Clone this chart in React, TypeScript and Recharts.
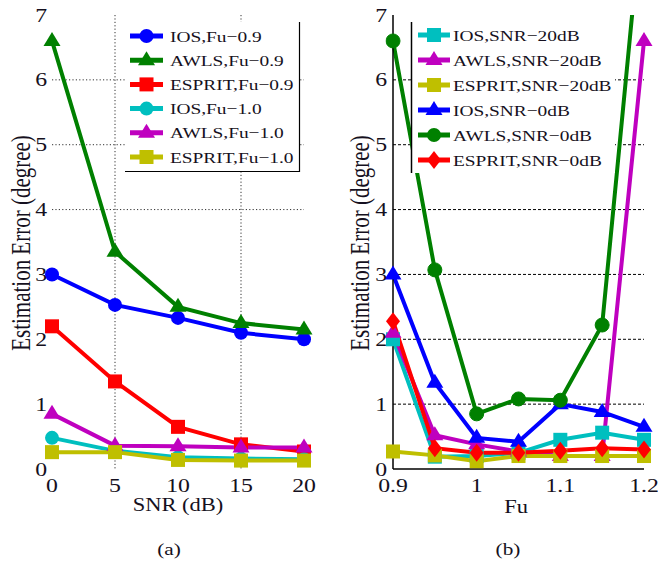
import React from 'react';
import { LineChart, Line, XAxis, YAxis, CartesianGrid, Legend } from 'recharts';

// ---------- data: panel (a) ----------
const snrValues = [0, 5, 10, 15, 20];
const iosFu09 = [3.0, 2.53, 2.33, 2.1, 2.0];
const awlsFu09 = [6.6, 3.35, 2.5, 2.25, 2.15];
const espritFu09 = [2.2, 1.35, 0.65, 0.38, 0.27];
const iosFu10 = [0.48, 0.28, 0.18, 0.16, 0.15];
const awlsFu10 = [0.85, 0.36, 0.35, 0.33, 0.33];
const espritFu10 = [0.26, 0.26, 0.14, 0.13, 0.13];
const snrTicks = [0, 5, 10, 15, 20];

// ---------- data: panel (b) ----------
const fuValues = [0.9, 0.95, 1.0, 1.05, 1.1, 1.15, 1.2];
const iosSnr20 = [2.0, 0.19, 0.2, 0.25, 0.45, 0.56, 0.45];
const awlsSnr20 = [2.1, 0.52, 0.38, 0.27, 0.2, 0.2, 6.6];
const espritSnr20 = [0.27, 0.21, 0.12, 0.2, 0.2, 0.2, 0.2];
const iosSnr0 = [3.0, 1.33, 0.48, 0.42, 1.0, 0.88, 0.65];
const awlsSnr0 = [6.6, 3.07, 0.85, 1.08, 1.06, 2.22, 8.9];
const espritSnr0 = [2.28, 0.32, 0.25, 0.25, 0.28, 0.32, 0.3];
const fuTicks = [0.9, 1.0, 1.1, 1.2];

const yTicks = [0, 1, 2, 3, 4, 5, 6, 7];

const seriesA = [
  { key: 'a0', name: 'IOS,Fu\u22120.9', values: iosFu09, color: '#0000ff', shape: 'circle' },
  { key: 'a1', name: 'AWLS,Fu\u22120.9', values: awlsFu09, color: '#008000', shape: 'triangle' },
  { key: 'a2', name: 'ESPRIT,Fu\u22120.9', values: espritFu09, color: '#ff0000', shape: 'square' },
  { key: 'a3', name: 'IOS,Fu\u22121.0', values: iosFu10, color: '#00bfbf', shape: 'circle' },
  { key: 'a4', name: 'AWLS,Fu\u22121.0', values: awlsFu10, color: '#bf00bf', shape: 'triangle' },
  { key: 'a5', name: 'ESPRIT,Fu\u22121.0', values: espritFu10, color: '#bfbf00', shape: 'square' },
];

const seriesB = [
  { key: 'b0', name: 'IOS,SNR\u221220dB', values: iosSnr20, color: '#00bfbf', shape: 'square' },
  { key: 'b1', name: 'AWLS,SNR\u221220dB', values: awlsSnr20, color: '#bf00bf', shape: 'triangle' },
  { key: 'b2', name: 'ESPRIT,SNR\u221220dB', values: espritSnr20, color: '#bfbf00', shape: 'square' },
  { key: 'b3', name: 'IOS,SNR\u22120dB', values: iosSnr0, color: '#0000ff', shape: 'triangle' },
  { key: 'b4', name: 'AWLS,SNR\u22120dB', values: awlsSnr0, color: '#008000', shape: 'circle' },
  { key: 'b5', name: 'ESPRIT,SNR\u22120dB', values: espritSnr0, color: '#ff0000', shape: 'diamond' },
];

const dataA = snrValues.map((x, i) => {
  const row: any = { x };
  seriesA.forEach((s) => (row[s.key] = s.values[i]));
  return row;
});
const dataB = fuValues.map((x, i) => {
  const row: any = { x };
  seriesB.forEach((s) => (row[s.key] = s.values[i]));
  return row;
});

const FONT = '"Liberation Serif", "Times New Roman", serif';
const INK = '#151020';
const STRETCH = 1.25;

function Marker({ cx, cy, shape, color }: any) {
  if (cx == null || cy == null || isNaN(cx) || isNaN(cy)) return null;
  if (shape === 'circle') return <circle cx={cx} cy={cy} r={7} fill={color} />;
  if (shape === 'square') return <rect x={cx - 7} y={cy - 7} width={14} height={14} fill={color} />;
  if (shape === 'triangle')
    return <polygon points={`${cx},${cy - 9} ${cx + 8.5},${cy + 5} ${cx - 8.5},${cy + 5}`} fill={color} />;
  return <polygon points={`${cx},${cy - 9} ${cx + 7},${cy} ${cx},${cy + 9} ${cx - 7},${cy}`} fill={color} />;
}

const makeDot = (shape: string, color: string) => (p: any) => (
  <Marker key={`dot-${p.index}`} cx={p.cx} cy={p.cy} shape={shape} color={color} />
);

const fmtFu = (v: number) => (Math.abs(v - 1) < 1e-9 ? '1' : String(v));

function XTick({ x, y, payload, fmt }: any) {
  return (
    <g transform={`translate(${x},${y + 23}) scale(${STRETCH},1)`}>
      <text x={0} y={0} textAnchor="middle" fontSize={19} fontFamily={FONT} fill={INK}>
        {fmt ? fmt(payload.value) : payload.value}
      </text>
    </g>
  );
}

function YTick({ x, y, payload, gap }: any) {
  return (
    <g transform={`translate(${x - gap},${y + 6.5}) scale(${STRETCH},1)`}>
      <text x={0} y={0} textAnchor="end" fontSize={19} fontFamily={FONT} fill={INK}>
        {payload.value}
      </text>
    </g>
  );
}

function YTitle({ px, py }: any) {
  return (
    <g transform={`translate(${px},${py}) rotate(-90) scale(1,${STRETCH})`}>
      <text x={0} y={0} textAnchor="middle" dominantBaseline="central" fontSize={21} fontFamily={FONT} fill={INK}>
        Estimation Error (degree)
      </text>
    </g>
  );
}

function XTitle({ px, py, text, cx2, caption }: any) {
  return (
    <g>
      <g transform={`translate(${px},${py}) scale(${STRETCH},1)`}>
        <text x={0} y={0} textAnchor="middle" fontSize={18} fontFamily={FONT} fill={INK}>
          {text}
        </text>
      </g>
      <g transform={`translate(${cx2},555) scale(${STRETCH},1)`}>
        <text x={0} y={0} textAnchor="middle" fontSize={17} fontFamily={FONT} fill={INK}>
          {caption}
        </text>
      </g>
    </g>
  );
}

function LegendBox({ items, w, h, y0, dy, s0, s1, tx, side }: any) {
  return (
    <svg width={w} height={h} style={{ display: 'block', overflow: 'visible' }}>
      <rect x={0} y={0} width={w} height={h} fill="#ffffff" />
      {side === 'rb' ? (
        <g stroke="#000" strokeWidth={1.2}>
          <line x1={w - 0.5} y1={0} x2={w - 0.5} y2={h} />
          <line x1={0} y1={h - 0.5} x2={w} y2={h - 0.5} />
        </g>
      ) : (
        <line x1={0.5} y1={0} x2={0.5} y2={h} stroke="#000" strokeWidth={1.5} />
      )}
      {items.map((s: any, i: number) => {
        const cy = y0 + i * dy;
        const mx = (s0 + s1) / 2;
        return (
          <g key={s.key}>
            <line x1={s0} y1={cy} x2={s1} y2={cy} stroke={s.color} strokeWidth={5} />
            <Marker cx={mx} cy={cy} shape={s.shape} color={s.color} />
            <g transform={`translate(${tx},${cy + 5.5}) scale(${STRETCH},1)`}>
              <text x={0} y={0} fontSize={15.5} fontFamily={FONT} fill={INK}>
                {s.name}
              </text>
            </g>
          </g>
        );
      })}
    </svg>
  );
}

function PanelA() {
  return (
    <LineChart width={330} height={561} data={dataA} margin={{ top: 15, right: 26, bottom: 91, left: 51 }}>
      <CartesianGrid
        horizontalValues={[4, 5, 6]}
        verticalValues={[5, 15]}
        stroke="#333"
        strokeDasharray="1.2 2.2"
        strokeWidth={1}
      />
      <XAxis
        dataKey="x"
        type="number"
        domain={[0, 20]}
        ticks={snrTicks}
        axisLine={false}
        tickLine={false}
        tickSize={0}
        tickMargin={0}
        height={1}
        interval={0}
        tick={<XTick />}
        label={<XTitle px={178} py={511} text="SNR (dB)" cx2={169} caption="(a)" />}
      />
      <YAxis
        type="number"
        domain={[0, 7]}
        ticks={yTicks}
        axisLine={false}
        tickLine={false}
        tickSize={0}
        tickMargin={0}
        width={1}
        interval={0}
        tick={<YTick gap={5} />}
        label={<YTitle px={21} py={243} />}
      />
      {seriesA.map((s) => (
        <Line
          key={s.key}
          dataKey={s.key}
          name={s.name}
          stroke={s.color}
          strokeWidth={4}
          dot={makeDot(s.shape, s.color)}
          activeDot={false}
          isAnimationActive={false}
        />
      ))}
      <Legend
        layout="vertical"
        align="center"
        verticalAlign="middle"
        wrapperStyle={{ left: 125, top: 22, width: 175, height: 150 }}
        content={() => (
          <LegendBox items={seriesA} w={175} h={150} y0={14} dy={24.2} s0={5} s1={38} tx={45} side="rb" />
        )}
      />
    </LineChart>
  );
}

function PanelB() {
  return (
    <LineChart width={328} height={561} data={dataB} margin={{ top: 15, right: 14, bottom: 91, left: 62 }}>
      <CartesianGrid
        yAxisId="main"
        horizontalValues={[1, 2, 3, 4, 5, 6]}
        vertical={false}
        stroke="#000"
        strokeDasharray="3 2"
        strokeWidth={1}
      />
      <XAxis
        dataKey="x"
        type="number"
        domain={[0.9, 1.2]}
        ticks={fuTicks}
        axisLine={{ stroke: '#000', strokeWidth: 1.5 }}
        tickLine={false}
        tickSize={0}
        tickMargin={0}
        height={1}
        interval={0}
        tick={<XTick fmt={fmtFu} />}
        label={<XTitle px={186} py={513} text="Fu" cx2={178} caption="(b)" />}
      />
      <YAxis
        yAxisId="main"
        type="number"
        domain={[0, 7]}
        ticks={yTicks}
        axisLine={{ stroke: '#000', strokeWidth: 1.5 }}
        tickLine={false}
        tickSize={0}
        tickMargin={0}
        width={1}
        interval={0}
        tick={<YTick gap={6} />}
        label={<YTitle px={30} py={243} />}
      />
      <YAxis yAxisId="over" type="number" domain={[0, 7]} allowDataOverflow hide width={0} />
      {seriesB.map((s) =>
        s.key === 'b4' ? (
          <Line
            key={s.key}
            yAxisId="over"
            dataKey={s.key}
            name={s.name}
            stroke={s.color}
            strokeWidth={4}
            dot={{ r: 7, fill: s.color, stroke: s.color, strokeWidth: 1, clipDot: false }}
            activeDot={false}
            isAnimationActive={false}
          />
        ) : (
          <Line
            key={s.key}
            yAxisId="main"
            dataKey={s.key}
            name={s.name}
            stroke={s.color}
            strokeWidth={4}
            dot={makeDot(s.shape, s.color)}
            activeDot={false}
            isAnimationActive={false}
          />
        )
      )}
      <Legend
        layout="vertical"
        align="center"
        verticalAlign="middle"
        wrapperStyle={{ left: 81, top: 22, width: 204, height: 151 }}
        content={() => (
          <LegendBox items={seriesB} w={204} h={151} y0={13} dy={25} s0={7} s1={39} tx={42} side="l" />
        )}
      />
    </LineChart>
  );
}

export default function App() {
  return (
    <div style={{ position: 'absolute', left: 0, top: 0, width: 658, height: 561, background: '#fff' }}>
      <div style={{ position: 'absolute', left: 0, top: 0 }}>
        <PanelA />
      </div>
      <div style={{ position: 'absolute', left: 330, top: 0 }}>
        <PanelB />
      </div>
    </div>
  );
}
